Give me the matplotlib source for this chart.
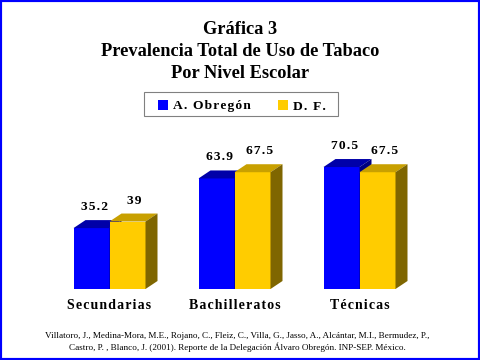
import matplotlib
matplotlib.use('Agg')
import matplotlib.pyplot as plt
from matplotlib.patches import Rectangle, Polygon

categories = ['Secundarias', 'Bachilleratos', 'Técnicas']
obregon = [35.2, 63.9, 70.5]
distrito = [39, 67.5, 67.5]
series_names = ['A. Obregón', 'D. F.']

title_lines = ['Gráfica 3', 'Prevalencia Total de Uso de Tabaco', 'Por Nivel Escolar']
footer = ['Villatoro, J., Medina-Mora, M.E., Rojano, C., Fleiz, C., Villa, G., Jasso, A., Alcántar, M.I., Bermudez, P.,',
          'Castro, P. , Blanco, J. (2001). Reporte de la Delegación Álvaro Obregón. INP-SEP. México.']

# front, top, side colours for each series
colors = [('#0000FF', '#0000A8', '#000080'),
          ('#FFCC00', '#C8A000', '#7F6600')]

W, H = 480, 360
serif = ['Liberation Serif', 'DejaVu Serif']


def spaced(s):
    # fake letter spacing with hair spaces
    return '\u200a'.join(s)


def fx(px):
    return px / W


def fy(py):
    return 1 - py / H


fig = plt.figure(figsize=(4.8, 3.6), dpi=100)
fig.patch.set_facecolor('white')

# blue frame round the slide
fig.patches.append(Rectangle((0, 0), 1, 1, transform=fig.transFigure, fill=False,
                             edgecolor='#0000FF', linewidth=3))

# title
for i, line in enumerate(title_lines):
    fig.text(0.5, fy(34 + 22 * i), line, ha='center', va='baseline',
             fontsize=13.2, fontweight='bold', family=serif)

# legend box
fig.patches.append(Rectangle((fx(144), fy(116)), fx(194), 24 / H, transform=fig.transFigure,
                             facecolor='white', edgecolor='#808080', linewidth=0.8))
leg_x = [158, 278]
for k, name in enumerate(series_names):
    fig.patches.append(Rectangle((fx(leg_x[k]), fy(110)), fx(10), 10 / H,
                                 transform=fig.transFigure, facecolor=colors[k][0],
                                 edgecolor='none'))
    fig.text(fx(leg_x[k] + 15), fy(109.5), spaced(name), ha='left', va='baseline',
             fontsize=9.7, fontweight='bold', family=serif)

# bars axes: group spacing 125px, baseline at y=289px
px_x = 125.0
px_y = 1.73
ax = fig.add_axes([fx(109.5 - 0.8 * px_x), fy(289), fx(3.6 * px_x), 100 * px_y / H])
ax.set_xlim(-0.8, 2.8)
ax.set_ylim(0, 100)
ax.axis('off')

bw = 36 / px_x
ddx = 12 / px_x
ddy = 8 / px_y
lab_dx = [3, 7]

for k, vals in enumerate([obregon, distrito]):
    front, top, side = colors[k]
    for i, v in enumerate(vals):
        x0 = i - bw + k * bw
        z = 2 + i * 2 + k
        ax.add_patch(Rectangle((x0, 0), bw, v, facecolor=front, edgecolor='none', zorder=z))
        ax.add_patch(Polygon([(x0, v), (x0 + ddx, v + ddy), (x0 + bw + ddx, v + ddy), (x0 + bw, v)],
                             closed=True, facecolor=top, edgecolor='none', zorder=z))
        ax.add_patch(Polygon([(x0 + bw, 0), (x0 + bw + ddx, ddy), (x0 + bw + ddx, v + ddy), (x0 + bw, v)],
                             closed=True, facecolor=side, edgecolor='none', zorder=z))
        ax.annotate(spaced(f'{v:g}'), xy=(x0 + bw / 2, v), xytext=(lab_dx[k] * 0.72, 21 * 0.72),
                    textcoords='offset points', ha='center', va='center',
                    fontsize=9.7, fontweight='bold', family=serif, annotation_clip=False)

for i, c in enumerate(categories):
    ax.annotate(spaced(c), xy=(i, 0), xytext=(0, -20 * 0.72), textcoords='offset points',
                ha='center', va='baseline', fontsize=10, fontweight='bold', family=serif,
                annotation_clip=False)

# reference
for j, line in enumerate(footer):
    fig.text(fx(237), fy(338 + 12 * j), line, ha='center', va='baseline',
             fontsize=6.6, family=serif)

fig.savefig('out.png', dpi=100)
